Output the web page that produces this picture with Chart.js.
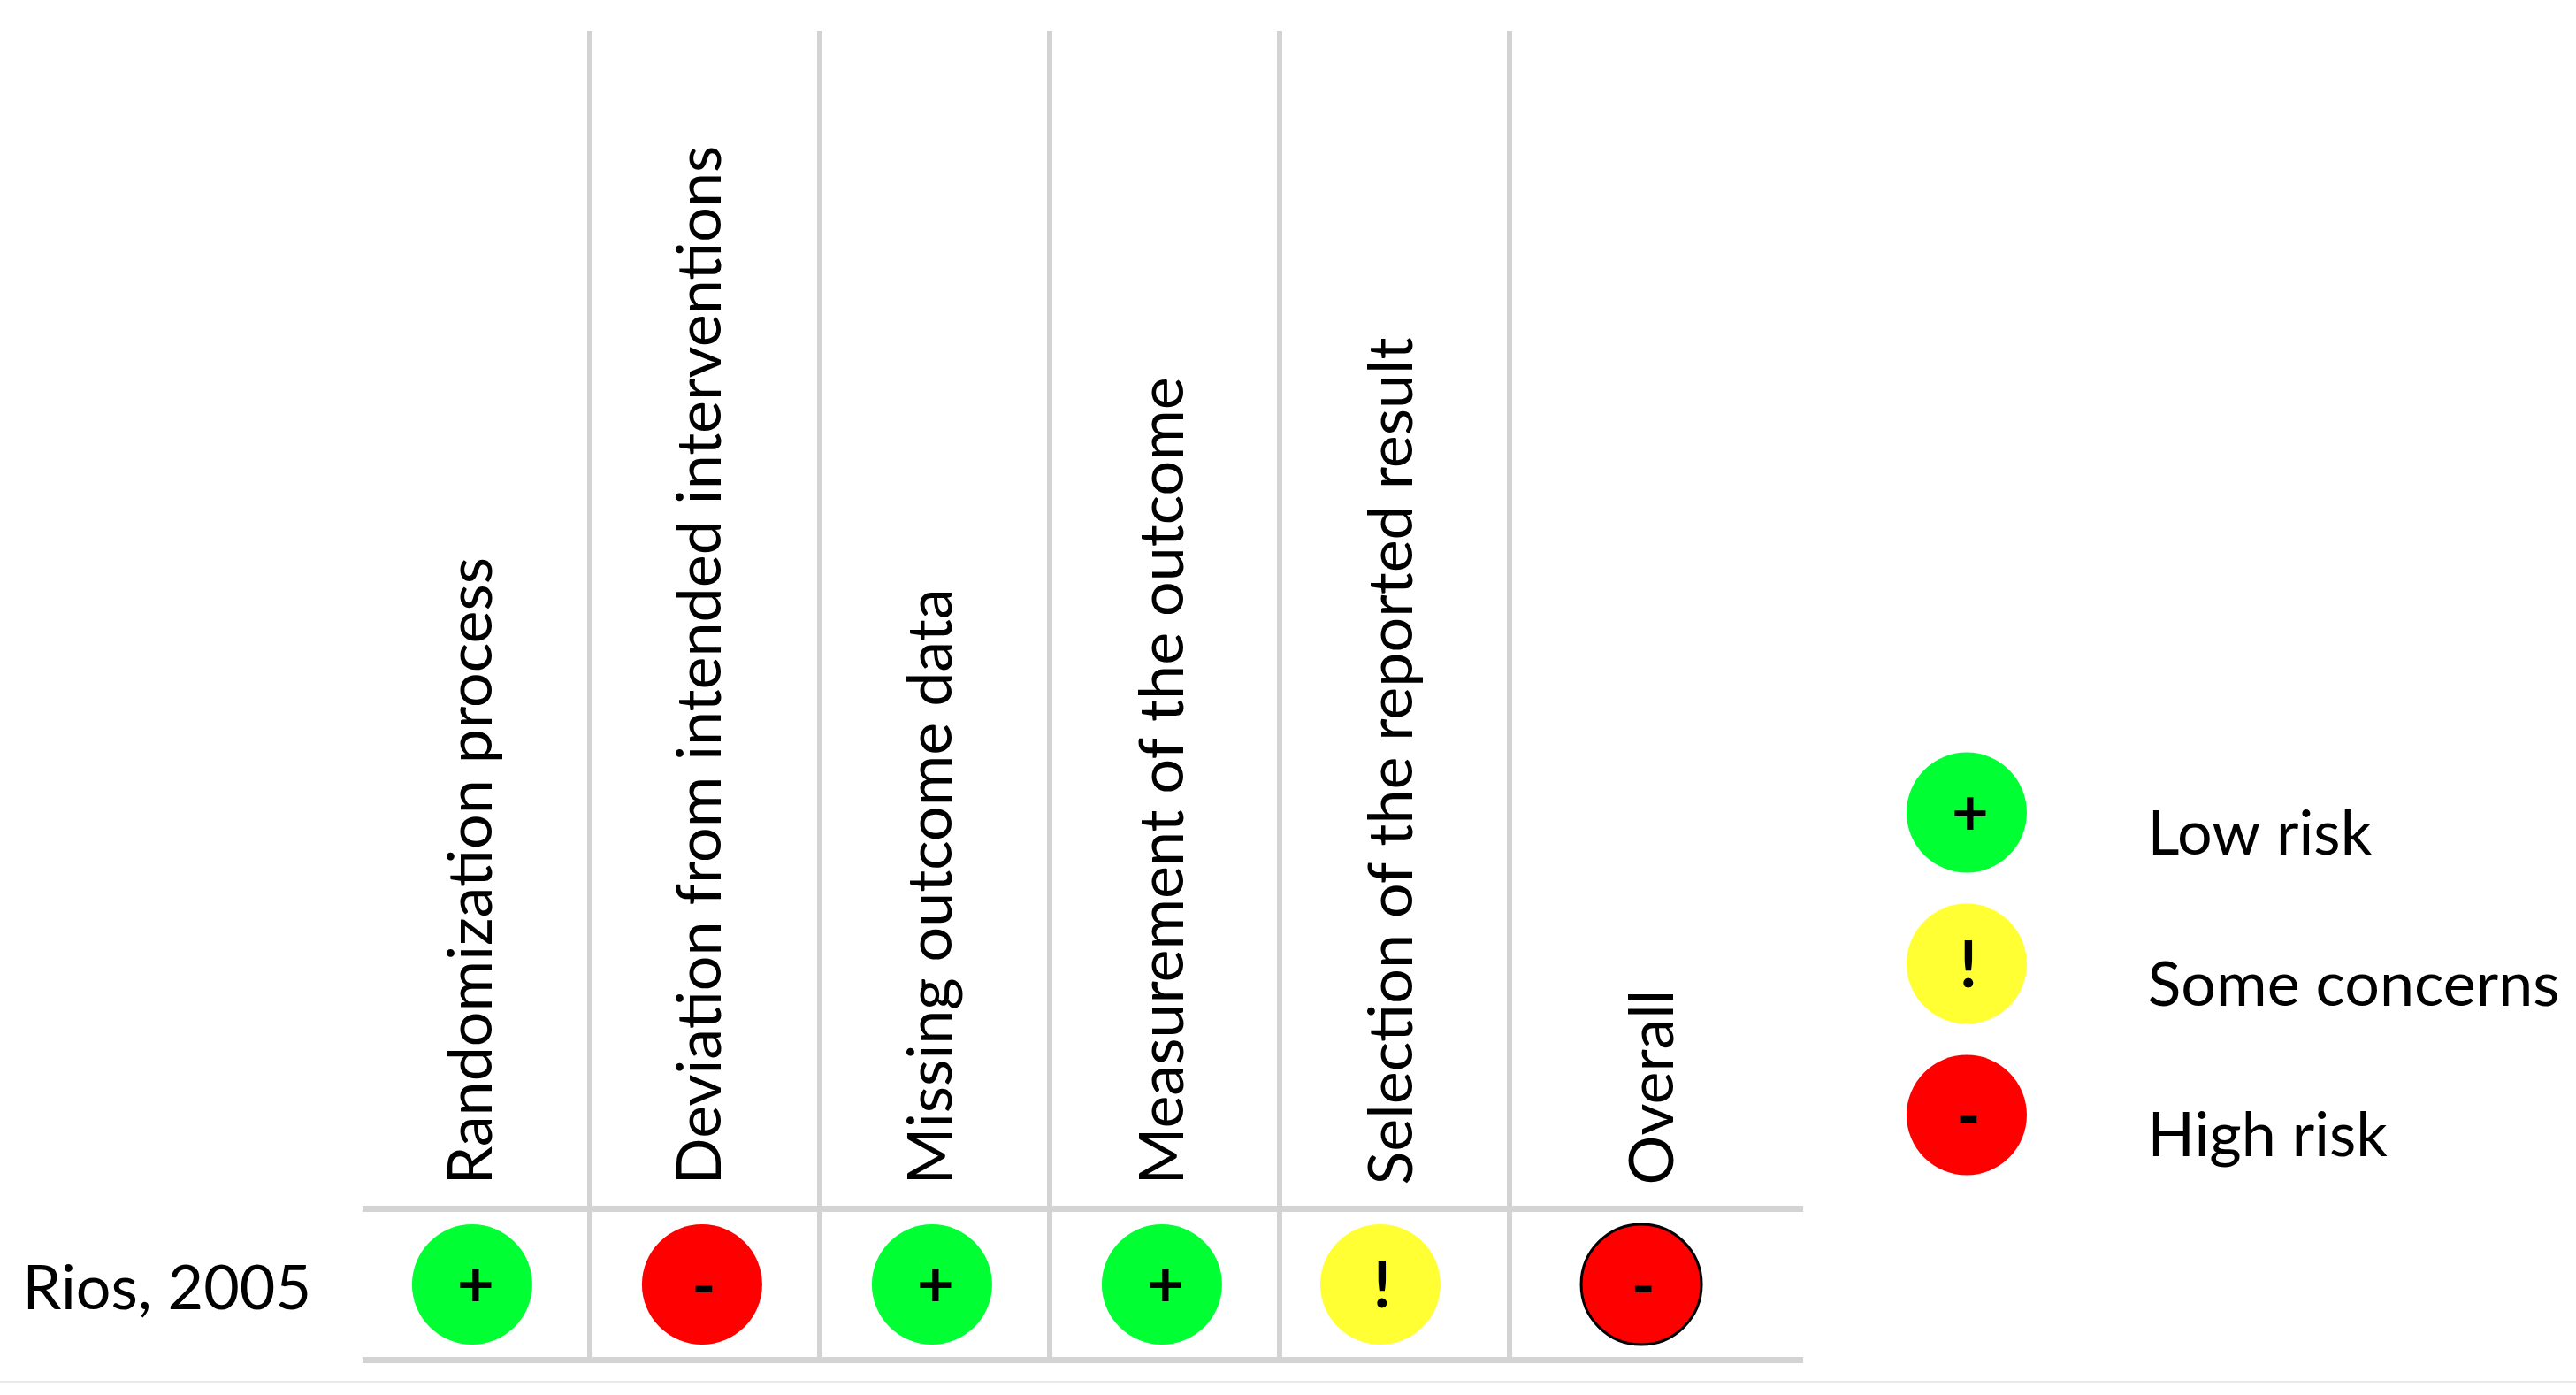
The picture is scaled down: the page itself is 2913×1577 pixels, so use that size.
<!DOCTYPE html>
<html><head><meta charset="utf-8">
<style>
html,body{margin:0;padding:0;background:#fff;width:2913px;height:1577px;overflow:hidden}
#c{position:absolute;left:0;top:0}
#edge{position:absolute;left:0;top:1561px;width:2913px;height:2px;background:#e9e9e9}
</style>
<script src="https://cdn.jsdelivr.net/npm/chart.js@4/dist/chart.umd.min.js"></script>
</head><body>
<canvas id="c" width="2913" height="1577"></canvas>
<div id="edge"></div>
<script>
const studies = ['Rios, 2005'];
const studyLabelRows = [-0.03];
const domains = ['Randomization process','Deviation from intended interventions','Missing outcome data','Measurement of the outcome','Selection of the reported result','Overall'];
const judgments = ['Low risk','High risk','Low risk','Low risk','Some concerns','High risk'];
const markColumns = [0.488,1.488,2.488,3.488,4.438,5.573];
const headerColumns = [0.573,1.569,2.573,3.58,4.577,5.712];
const legendLevels = ['Low risk','Some concerns','High risk'];
const legendRows = [3.12,2.12,1.12];
const legendColumn = 6.988;
const legendTextColumn = 7.775;
const gridColumns = [1,2,3,4,5];
const gridRows = [-0.5,0.5];
const ruleExtent = [0.0115,6.277];

const FONT = 'Lato, sans-serif';
const levelColor = {'Low risk':'#00ff33','Some concerns':'#ffff33','High risk':'#ff0000'};
const levelGlyph = {'Low risk':'+','Some concerns':'!','High risk':'-'};

const textPlugin = {
  id:'textPlugin',
  afterDatasetsDraw(chart){
    const {ctx,scales:{x,y}} = chart;
    ctx.save();
    ctx.fillStyle='#000';
    ctx.textAlign='left';
    ctx.textBaseline='alphabetic';
    ctx.font='70px '+FONT;
    const baseY = y.getPixelForValue(0.5)-27;
    domains.forEach((d,i)=>{
      ctx.save();
      ctx.translate(x.getPixelForValue(headerColumns[i]),baseY);
      ctx.rotate(-Math.PI/2);
      ctx.fillText(d,0,0);
      ctx.restore();
    });
    legendLevels.forEach((l,i)=>{
      ctx.fillText(l,x.getPixelForValue(legendTextColumn),y.getPixelForValue(legendRows[i])+47);
    });
    ctx.textAlign='center';
    ctx.font='700 72px '+FONT;
    const glyph=(g,px,py)=>{
      const dy=g==='-'?27:g==='+'?25:26;
      ctx.fillText(g,px+(g==='+'?4:2),py+dy);
    };
    judgments.forEach((j,i)=>{
      const el=chart.getDatasetMeta(2).data[i];
      glyph(levelGlyph[j],el.x,el.y);
    });
    legendLevels.forEach((l,i)=>{
      const el=chart.getDatasetMeta(3).data[i];
      glyph(levelGlyph[l],el.x,el.y);
    });
    ctx.restore();
  }
};

const rule = r => ({type:'line',label:'Rule',order:5,showLine:true,pointRadius:0,clip:false,
  borderColor:'#d3d3d3',borderWidth:7,
  data:ruleExtent.map(v=>({x:v,y:r}))});

new Chart(document.getElementById('c'),{
  type:'scatter',
  data:{datasets:[
    rule(gridRows[0]),
    rule(gridRows[1]),
    {label:'Judgments',order:1,
     data:judgments.map((j,i)=>({x:markColumns[i],y:0})),
     pointRadius:68,pointHoverRadius:68,
     pointBackgroundColor:judgments.map(j=>levelColor[j]),
     pointBorderColor:judgments.map((j,i)=>domains[i]==='Overall'?'#000':levelColor[j]),
     pointBorderWidth:judgments.map((j,i)=>domains[i]==='Overall'?3:0)},
    {label:'Legend',order:1,
     data:legendLevels.map((l,i)=>({x:legendColumn,y:legendRows[i]})),
     pointRadius:68,pointHoverRadius:68,pointBorderWidth:0,
     pointBackgroundColor:legendLevels.map(l=>levelColor[l])}
  ]},
  plugins:[textPlugin],
  options:{
    responsive:false,devicePixelRatio:1,animation:false,
    layout:{autoPadding:false,padding:{left:0,right:0,top:35,bottom:39.5}},
    plugins:{legend:{display:false},tooltip:{enabled:false}},
    scales:{
      x:{type:'linear',min:0.0115,max:9.638,
         afterBuildTicks(s){s.ticks=gridColumns.map(v=>({value:v}));},
         ticks:{display:false},
         border:{display:false},
         grid:{color:'#d3d3d3',lineWidth:6,drawTicks:false}},
      y:{type:'linear',min:-0.5,max:8.287,
         afterBuildTicks(s){s.ticks=studyLabelRows.map(v=>({value:v}));},
         afterFit(s){s.width=410;s.paddingTop=0;s.paddingBottom=0;},
         ticks:{autoSkip:false,padding:58,color:'#000',font:{family:'Lato',size:70},
                callback(v){return studies[studyLabelRows.indexOf(v)];}},
         border:{display:false},
         grid:{display:false,drawTicks:false}}
    }
  }
});
</script>
</body></html>
